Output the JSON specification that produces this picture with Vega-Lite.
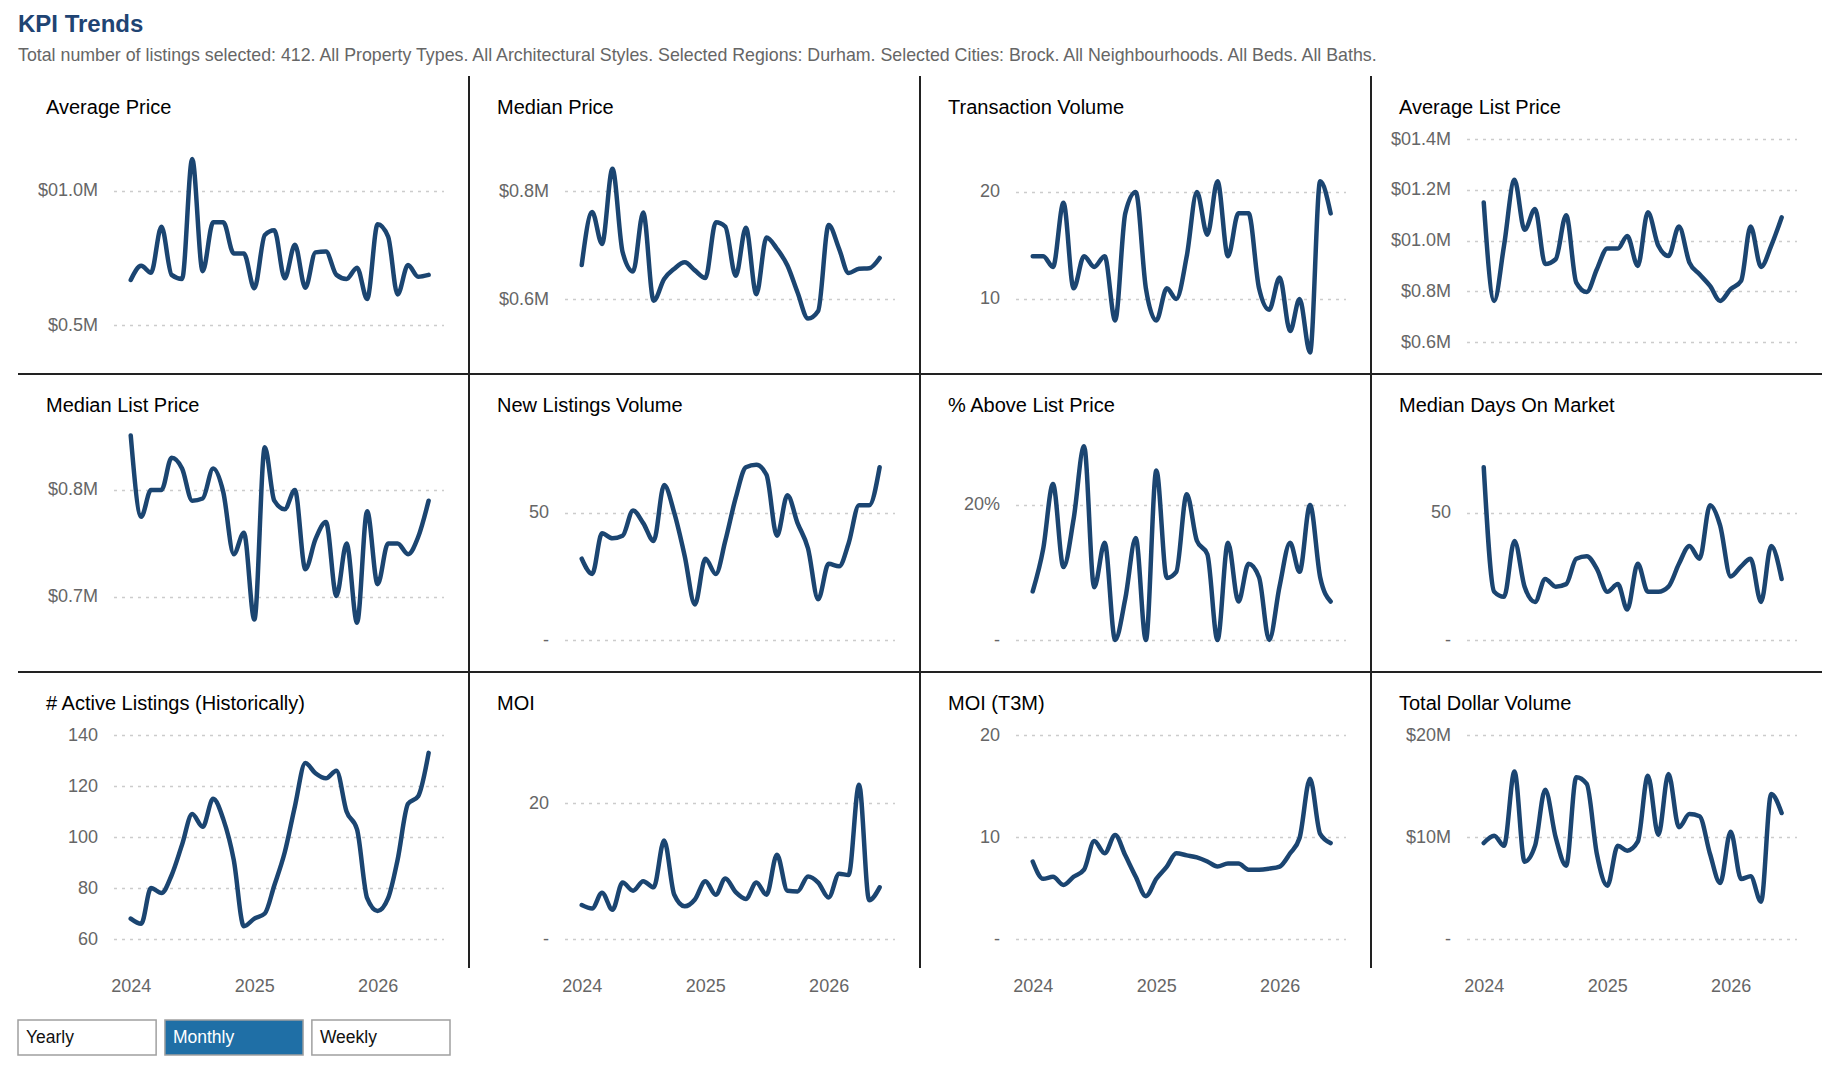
{
  "$schema": "https://vega.github.io/schema/vega-lite/v6.json",
  "padding": {"left": 17, "top": 12, "right": 10, "bottom": 5},
  "background": "white",
  "title": {"text": "KPI Trends", "subtitle": "Total number of listings selected: 412. All Property Types. All Architectural Styles. Selected Regions: Durham. Selected Cities: Brock. All Neighbourhoods. All Beds. All Baths.", "anchor": "start", "frame": "group", "dx": 0, "offset": 10.4, "fontSize": 24, "fontWeight": "bold", "color": "#1f4473", "subtitleFontSize": 17.8, "subtitleColor": "#666666", "subtitlePadding": 10, "subtitleFont": "Liberation Sans"},
  "data": {"values": [
    {"month": "2024-01-01", "avgPrice": 668000, "medPrice": 663000, "txVol": 14, "avgList": 1150000, "medList": 851000, "newList": 32, "pctAbove": 0.072, "dom": 68, "active": 68, "moi": 5.0, "moi3": 7.6, "dollarVol": 9410000},
    {"month": "2024-02-01", "avgPrice": 721000, "medPrice": 761000, "txVol": 14, "avgList": 762000, "medList": 775000, "newList": 26, "pctAbove": 0.135, "dom": 19, "active": 66, "moi": 4.5, "moi3": 5.9, "dollarVol": 10130000},
    {"month": "2024-03-01", "avgPrice": 695000, "medPrice": 702000, "txVol": 13, "avgList": 979000, "medList": 800000, "newList": 42, "pctAbove": 0.231, "dom": 17, "active": 80, "moi": 6.8, "moi3": 6.1, "dollarVol": 9150000},
    {"month": "2024-04-01", "avgPrice": 867000, "medPrice": 841000, "txVol": 19, "avgList": 1239000, "medList": 800000, "newList": 40, "pctAbove": 0.108, "dom": 39, "active": 78, "moi": 4.3, "moi3": 5.3, "dollarVol": 16410000},
    {"month": "2024-05-01", "avgPrice": 687000, "medPrice": 687000, "txVol": 11, "avgList": 1042000, "medList": 830000, "newList": 41, "pctAbove": 0.179, "dom": 21, "active": 85, "moi": 8.3, "moi3": 6.1, "dollarVol": 7580000},
    {"month": "2024-06-01", "avgPrice": 672000, "medPrice": 651000, "txVol": 14, "avgList": 1124000, "medList": 820000, "newList": 51, "pctAbove": 0.287, "dom": 15, "active": 97, "moi": 7.1, "moi3": 6.8, "dollarVol": 9150000},
    {"month": "2024-07-01", "avgPrice": 1119000, "medPrice": 760000, "txVol": 13, "avgList": 907000, "medList": 790000, "newList": 46, "pctAbove": 0.078, "dom": 24, "active": 109, "moi": 8.5, "moi3": 9.6, "dollarVol": 14640000},
    {"month": "2024-08-01", "avgPrice": 701000, "medPrice": 597000, "txVol": 14, "avgList": 926000, "medList": 792000, "newList": 39, "pctAbove": 0.144, "dom": 21, "active": 104, "moi": 7.6, "moi3": 8.4, "dollarVol": 9970000},
    {"month": "2024-09-01", "avgPrice": 883000, "medPrice": 637000, "txVol": 8, "avgList": 1100000, "medList": 820000, "newList": 61, "pctAbove": 0.0, "dom": 22, "active": 115, "moi": 14.5, "moi3": 10.2, "dollarVol": 7190000},
    {"month": "2024-10-01", "avgPrice": 883000, "medPrice": 656000, "txVol": 18, "avgList": 834000, "medList": 798000, "newList": 50, "pctAbove": 0.061, "dom": 32, "active": 107, "moi": 6.5, "moi3": 8.2, "dollarVol": 15850000},
    {"month": "2024-11-01", "avgPrice": 767000, "medPrice": 668000, "txVol": 20, "avgList": 797000, "medList": 740000, "newList": 33, "pctAbove": 0.151, "dom": 33, "active": 91, "moi": 4.8, "moi3": 6.1, "dollarVol": 15200000},
    {"month": "2024-12-01", "avgPrice": 767000, "medPrice": 653000, "txVol": 11, "avgList": 887000, "medList": 760000, "newList": 14, "pctAbove": 0.0, "dom": 28, "active": 65, "moi": 5.8, "moi3": 4.2, "dollarVol": 8330000},
    {"month": "2025-01-01", "avgPrice": 637000, "medPrice": 639000, "txVol": 8, "avgList": 968000, "medList": 679000, "newList": 32, "pctAbove": 0.251, "dom": 19, "active": 68, "moi": 8.5, "moi3": 5.9, "dollarVol": 5230000},
    {"month": "2025-02-01", "avgPrice": 836000, "medPrice": 742000, "txVol": 11, "avgList": 968000, "medList": 840000, "newList": 26, "pctAbove": 0.092, "dom": 22, "active": 70, "moi": 6.5, "moi3": 7.1, "dollarVol": 9150000},
    {"month": "2025-03-01", "avgPrice": 854000, "medPrice": 734000, "txVol": 10, "avgList": 1018000, "medList": 790000, "newList": 39, "pctAbove": 0.101, "dom": 12, "active": 81, "moi": 8.9, "moi3": 8.4, "dollarVol": 8660000},
    {"month": "2025-04-01", "avgPrice": 674000, "medPrice": 643000, "txVol": 14, "avgList": 900000, "medList": 782000, "newList": 56, "pctAbove": 0.216, "dom": 30, "active": 94, "moi": 6.9, "moi3": 8.2, "dollarVol": 9540000},
    {"month": "2025-05-01", "avgPrice": 799000, "medPrice": 732000, "txVol": 20, "avgList": 1111000, "medList": 800000, "newList": 68, "pctAbove": 0.147, "dom": 19, "active": 112, "moi": 5.9, "moi3": 8.0, "dollarVol": 16010000},
    {"month": "2025-06-01", "avgPrice": 639000, "medPrice": 609000, "txVol": 16, "avgList": 979000, "medList": 726000, "newList": 69, "pctAbove": 0.127, "dom": 19, "active": 129, "moi": 8.3, "moi3": 7.6, "dollarVol": 10200000},
    {"month": "2025-07-01", "avgPrice": 771000, "medPrice": 714000, "txVol": 21, "avgList": 939000, "medList": 754000, "newList": 65, "pctAbove": 0.0, "dom": 21, "active": 125, "moi": 6.5, "moi3": 7.1, "dollarVol": 16180000},
    {"month": "2025-08-01", "avgPrice": 774000, "medPrice": 693000, "txVol": 14, "avgList": 1055000, "medList": 770000, "newList": 41, "pctAbove": 0.144, "dom": 30, "active": 123, "moi": 12.4, "moi3": 7.4, "dollarVol": 10950000},
    {"month": "2025-09-01", "avgPrice": 687000, "medPrice": 662000, "txVol": 18, "avgList": 913000, "medList": 701000, "newList": 57, "pctAbove": 0.057, "dom": 37, "active": 126, "moi": 7.1, "moi3": 7.4, "dollarVol": 12250000},
    {"month": "2025-10-01", "avgPrice": 672000, "medPrice": 612000, "txVol": 18, "avgList": 867000, "medList": 750000, "newList": 46, "pctAbove": 0.113, "dom": 32, "active": 110, "moi": 7.0, "moi3": 6.8, "dollarVol": 12030000},
    {"month": "2025-11-01", "avgPrice": 714000, "medPrice": 564000, "txVol": 11, "avgList": 821000, "medList": 676000, "newList": 36, "pctAbove": 0.093, "dom": 53, "active": 103, "moi": 9.2, "moi3": 6.8, "dollarVol": 8330000},
    {"month": "2025-12-01", "avgPrice": 597000, "medPrice": 578000, "txVol": 9, "avgList": 762000, "medList": 780000, "newList": 16, "pctAbove": 0.0, "dom": 45, "active": 76, "moi": 8.3, "moi3": 6.9, "dollarVol": 5490000},
    {"month": "2026-01-01", "avgPrice": 876000, "medPrice": 737000, "txVol": 12, "avgList": 808000, "medList": 712000, "newList": 30, "pctAbove": 0.080, "dom": 25, "active": 71, "moi": 6.1, "moi3": 7.1, "dollarVol": 10520000},
    {"month": "2026-02-01", "avgPrice": 830000, "medPrice": 693000, "txVol": 7, "avgList": 841000, "medList": 750000, "newList": 29, "pctAbove": 0.144, "dom": 29, "active": 76, "moi": 9.6, "moi3": 8.4, "dollarVol": 5880000},
    {"month": "2026-03-01", "avgPrice": 614000, "medPrice": 648000, "txVol": 10, "avgList": 1055000, "medList": 750000, "newList": 38, "pctAbove": 0.101, "dom": 32, "active": 91, "moi": 9.4, "moi3": 9.9, "dollarVol": 6140000},
    {"month": "2026-04-01", "avgPrice": 724000, "medPrice": 656000, "txVol": 5, "avgList": 896000, "medList": 740000, "newList": 53, "pctAbove": 0.200, "dom": 15, "active": 113, "moi": 22.7, "moi3": 15.7, "dollarVol": 3660000},
    {"month": "2026-05-01", "avgPrice": 680000, "medPrice": 657000, "txVol": 21, "avgList": 979000, "medList": 756000, "newList": 53, "pctAbove": 0.093, "dom": 37, "active": 116, "moi": 5.7, "moi3": 10.3, "dollarVol": 14220000},
    {"month": "2026-06-01", "avgPrice": 687000, "medPrice": 676000, "txVol": 18, "avgList": 1091000, "medList": 790000, "newList": 68, "pctAbove": 0.057, "dom": 24, "active": 133, "moi": 7.6, "moi3": 9.4, "dollarVol": 12350000}
  ]},
  "vconcat": [
    {
      "columns": 4,
      "spacing": 0,
      "bounds": "flush",
      "concat": [
        {"title": "Average Price", "width": 451, "height": 298,
         "view": {"stroke": "#222222", "strokeWidth": 2, "strokeDash": [0, 451, 749, 298]},
         "mark": "line",
         "encoding": {
           "x": {"field": "month", "type": "temporal", "scale": {"type": "utc", "domain": [{"year": 2023, "month": 11, "date": 11, "utc": true}, {"year": 2026, "month": 7, "date": 15, "utc": true}], "range": [95.5, 425.5]}, "axis": null},
           "y": {"field": "avgPrice", "type": "quantitative", "scale": {"domain": [436600, 1194000], "range": [266, 63], "nice": false, "zero": false}, "axis": {"values": [500000, 1000000], "offset": -79.5, "labelExpr": "datum.value >= 1000000 ? '$0' + format(datum.value/1000000, '.1f') + 'M' : '$' + format(datum.value/1000000, '.1f') + 'M'", "title": null}}
         }},
        {"title": "Median Price", "width": 451, "height": 298,
         "view": {"stroke": "#222222", "strokeWidth": 2, "strokeDash": [0, 451, 749, 298]},
         "mark": "line",
         "encoding": {
           "x": {"field": "month", "type": "temporal", "scale": {"type": "utc", "domain": [{"year": 2023, "month": 11, "date": 11, "utc": true}, {"year": 2026, "month": 7, "date": 15, "utc": true}], "range": [95.5, 425.5]}, "axis": null},
           "y": {"field": "medPrice", "type": "quantitative", "scale": {"domain": [520400, 896300], "range": [266, 63], "nice": false, "zero": false}, "axis": {"values": [600000, 800000], "offset": -79.5, "labelExpr": "datum.value >= 1000000 ? '$0' + format(datum.value/1000000, '.1f') + 'M' : '$' + format(datum.value/1000000, '.1f') + 'M'", "title": null}}
         }},
        {"title": "Transaction Volume", "width": 451, "height": 298,
         "view": {"stroke": "#222222", "strokeWidth": 2, "strokeDash": [0, 451, 749, 298]},
         "mark": "line",
         "encoding": {
           "x": {"field": "month", "type": "temporal", "scale": {"type": "utc", "domain": [{"year": 2023, "month": 11, "date": 11, "utc": true}, {"year": 2026, "month": 7, "date": 15, "utc": true}], "range": [95.5, 425.5]}, "axis": null},
           "y": {"field": "txVol", "type": "quantitative", "scale": {"domain": [5.98, 24.95], "range": [266, 63], "nice": false, "zero": false}, "axis": {"values": [10, 20], "offset": -79.5, "labelExpr": "datum.value == 0 ? '-' : format(datum.value, 'd')", "title": null}}
         }},
        {"title": "Average List Price", "width": 451, "height": 298,
         "view": {"stroke": "#222222", "strokeWidth": 2, "strokeDash": [0, 749, 451, 298]},
         "mark": "line",
         "encoding": {
           "x": {"field": "month", "type": "temporal", "scale": {"type": "utc", "domain": [{"year": 2023, "month": 11, "date": 11, "utc": true}, {"year": 2026, "month": 7, "date": 15, "utc": true}], "range": [95.5, 425.5]}, "axis": null},
           "y": {"field": "avgList", "type": "quantitative", "scale": {"domain": [600000, 1400000], "range": [266, 63], "nice": false, "zero": false}, "axis": {"values": [600000, 800000, 1000000, 1200000, 1400000], "offset": -79.5, "labelExpr": "datum.value >= 1000000 ? '$0' + format(datum.value/1000000, '.1f') + 'M' : '$' + format(datum.value/1000000, '.1f') + 'M'", "title": null}}
         }},
        {"title": "Median List Price", "width": 451, "height": 298,
         "view": {"stroke": "#222222", "strokeWidth": 2, "strokeDash": [0, 451, 749, 298]},
         "mark": "line",
         "encoding": {
           "x": {"field": "month", "type": "temporal", "scale": {"type": "utc", "domain": [{"year": 2023, "month": 11, "date": 11, "utc": true}, {"year": 2026, "month": 7, "date": 15, "utc": true}], "range": [95.5, 425.5]}, "axis": null},
           "y": {"field": "medList", "type": "quantitative", "scale": {"domain": [659800, 849500], "range": [266, 63], "nice": false, "zero": false}, "axis": {"values": [700000, 800000], "offset": -79.5, "labelExpr": "datum.value >= 1000000 ? '$0' + format(datum.value/1000000, '.1f') + 'M' : '$' + format(datum.value/1000000, '.1f') + 'M'", "title": null}}
         }},
        {"title": "New Listings Volume", "width": 451, "height": 298,
         "view": {"stroke": "#222222", "strokeWidth": 2, "strokeDash": [0, 451, 749, 298]},
         "mark": "line",
         "encoding": {
           "x": {"field": "month", "type": "temporal", "scale": {"type": "utc", "domain": [{"year": 2023, "month": 11, "date": 11, "utc": true}, {"year": 2026, "month": 7, "date": 15, "utc": true}], "range": [95.5, 425.5]}, "axis": null},
           "y": {"field": "newList", "type": "quantitative", "scale": {"domain": [0, 79.9], "range": [266, 63], "nice": false}, "axis": {"values": [0, 50], "offset": -79.5, "labelExpr": "datum.value == 0 ? '-' : format(datum.value, 'd')", "title": null}}
         }},
        {"title": "% Above List Price", "width": 451, "height": 298,
         "view": {"stroke": "#222222", "strokeWidth": 2, "strokeDash": [0, 451, 749, 298]},
         "mark": "line",
         "encoding": {
           "x": {"field": "month", "type": "temporal", "scale": {"type": "utc", "domain": [{"year": 2023, "month": 11, "date": 11, "utc": true}, {"year": 2026, "month": 7, "date": 15, "utc": true}], "range": [95.5, 425.5]}, "axis": null},
           "y": {"field": "pctAbove", "type": "quantitative", "scale": {"domain": [0, 0.3007], "range": [266, 63], "nice": false}, "axis": {"values": [0, 0.2], "offset": -79.5, "labelExpr": "datum.value == 0 ? '-' : format(datum.value, '.0%')", "title": null}}
         }},
        {"title": "Median Days On Market", "width": 451, "height": 298,
         "view": {"stroke": "#222222", "strokeWidth": 2, "strokeDash": [0, 749, 451, 298]},
         "mark": "line",
         "encoding": {
           "x": {"field": "month", "type": "temporal", "scale": {"type": "utc", "domain": [{"year": 2023, "month": 11, "date": 11, "utc": true}, {"year": 2026, "month": 7, "date": 15, "utc": true}], "range": [95.5, 425.5]}, "axis": null},
           "y": {"field": "dom", "type": "quantitative", "scale": {"domain": [0, 79.9], "range": [266, 63], "nice": false}, "axis": {"values": [0, 50], "offset": -79.5, "labelExpr": "datum.value == 0 ? '-' : format(datum.value, 'd')", "title": null}}
         }},
        {"title": "# Active Listings (Historically)", "width": 451, "height": 296,
         "view": {"stroke": "#222222", "strokeWidth": 2, "strokeDash": [0, 451, 296, 747]},
         "mark": "line",
         "encoding": {
           "x": {"field": "month", "type": "temporal", "scale": {"type": "utc", "domain": [{"year": 2023, "month": 11, "date": 11, "utc": true}, {"year": 2026, "month": 7, "date": 15, "utc": true}], "range": [95.5, 425.5]}, "axis": {"values": [{"year": 2024, "month": 1, "date": 1, "utc": true}, {"year": 2025, "month": 1, "date": 1, "utc": true}, {"year": 2026, "month": 1, "date": 1, "utc": true}], "format": "%Y", "grid": false, "labelPadding": 9, "labelFlush": false, "title": null}},
           "y": {"field": "active", "type": "quantitative", "scale": {"domain": [60, 140], "range": [267, 63], "nice": false, "zero": false}, "axis": {"values": [60, 80, 100, 120, 140], "offset": -79.5, "labelExpr": "format(datum.value, 'd')", "title": null}}
         }},
        {"title": "MOI", "width": 451, "height": 296,
         "view": {"stroke": "#222222", "strokeWidth": 2, "strokeDash": [0, 451, 296, 747]},
         "mark": "line",
         "encoding": {
           "x": {"field": "month", "type": "temporal", "scale": {"type": "utc", "domain": [{"year": 2023, "month": 11, "date": 11, "utc": true}, {"year": 2026, "month": 7, "date": 15, "utc": true}], "range": [95.5, 425.5]}, "axis": {"values": [{"year": 2024, "month": 1, "date": 1, "utc": true}, {"year": 2025, "month": 1, "date": 1, "utc": true}, {"year": 2026, "month": 1, "date": 1, "utc": true}], "format": "%Y", "grid": false, "labelPadding": 9, "labelFlush": false, "title": null}},
           "y": {"field": "moi", "type": "quantitative", "scale": {"domain": [0, 30], "range": [267, 63], "nice": false}, "axis": {"values": [0, 20], "offset": -79.5, "labelExpr": "datum.value == 0 ? '-' : format(datum.value, 'd')", "title": null}}
         }},
        {"title": "MOI (T3M)", "width": 451, "height": 296,
         "view": {"stroke": "#222222", "strokeWidth": 2, "strokeDash": [0, 451, 296, 747]},
         "mark": "line",
         "encoding": {
           "x": {"field": "month", "type": "temporal", "scale": {"type": "utc", "domain": [{"year": 2023, "month": 11, "date": 11, "utc": true}, {"year": 2026, "month": 7, "date": 15, "utc": true}], "range": [95.5, 425.5]}, "axis": {"values": [{"year": 2024, "month": 1, "date": 1, "utc": true}, {"year": 2025, "month": 1, "date": 1, "utc": true}, {"year": 2026, "month": 1, "date": 1, "utc": true}], "format": "%Y", "grid": false, "labelPadding": 9, "labelFlush": false, "title": null}},
           "y": {"field": "moi3", "type": "quantitative", "scale": {"domain": [0, 20], "range": [267, 63], "nice": false}, "axis": {"values": [0, 10, 20], "offset": -79.5, "labelExpr": "datum.value == 0 ? '-' : format(datum.value, 'd')", "title": null}}
         }},
        {"title": "Total Dollar Volume", "width": 451, "height": 296,
         "view": {"stroke": null},
         "mark": "line",
         "encoding": {
           "x": {"field": "month", "type": "temporal", "scale": {"type": "utc", "domain": [{"year": 2023, "month": 11, "date": 11, "utc": true}, {"year": 2026, "month": 7, "date": 15, "utc": true}], "range": [95.5, 425.5]}, "axis": {"values": [{"year": 2024, "month": 1, "date": 1, "utc": true}, {"year": 2025, "month": 1, "date": 1, "utc": true}, {"year": 2026, "month": 1, "date": 1, "utc": true}], "format": "%Y", "grid": false, "labelPadding": 9, "labelFlush": false, "title": null}},
           "y": {"field": "dollarVol", "type": "quantitative", "scale": {"domain": [0, 20000000], "range": [267, 63], "nice": false}, "axis": {"values": [0, 10000000, 20000000], "offset": -79.5, "labelExpr": "datum.value == 0 ? '-' : '$' + format(datum.value/1000000, 'd') + 'M'", "title": null}}
         }}
      ]
    },
    {
      "width": 432, "height": 35,
      "data": {"values": [
        {"label": "Yearly", "selected": false},
        {"label": "Monthly", "selected": true},
        {"label": "Weekly", "selected": false}
      ]},
      "encoding": {"x": {"field": "label", "type": "nominal", "sort": null, "scale": {"paddingInner": 0.06, "paddingOuter": 0}, "axis": null}},
      "layer": [
        {"mark": {"type": "rect", "stroke": "#a0a0a0", "strokeWidth": 1.5},
         "encoding": {"fill": {"condition": {"test": "datum.selected", "value": "#1f6fa6"}, "value": "#ffffff"}}},
        {"mark": {"type": "text", "align": "left", "baseline": "middle", "dx": 8, "fontSize": 17.5, "font": "Liberation Sans"},
         "encoding": {"x": {"field": "label", "type": "nominal", "sort": null, "bandPosition": 0}, "text": {"field": "label"}, "color": {"condition": {"test": "datum.selected", "value": "#ffffff"}, "value": "#111111"}}}
      ]
    }
  ],
  "spacing": 23,
  "bounds": "full",
  "config": {
    "font": "Liberation Sans",
    "view": {"stroke": null},
    "line": {"interpolate": "monotone", "strokeWidth": 4.5, "color": "#1b4571", "strokeCap": "round", "strokeJoin": "round"},
    "axis": {"labelFont": "Liberation Sans", "labelFontSize": 18, "labelColor": "#666666", "ticks": false, "tickSize": 0, "domain": false, "labelPadding": 0, "gridDash": [3, 5], "gridColor": "#cccccc", "gridWidth": 1.5},
    "axisX": {"labelPadding": 9},
    "title": {"anchor": "start", "frame": "group", "fontSize": 20, "fontWeight": "normal", "color": "#000000", "offset": -42, "dx": 28, "font": "Liberation Sans"}
  }
}
